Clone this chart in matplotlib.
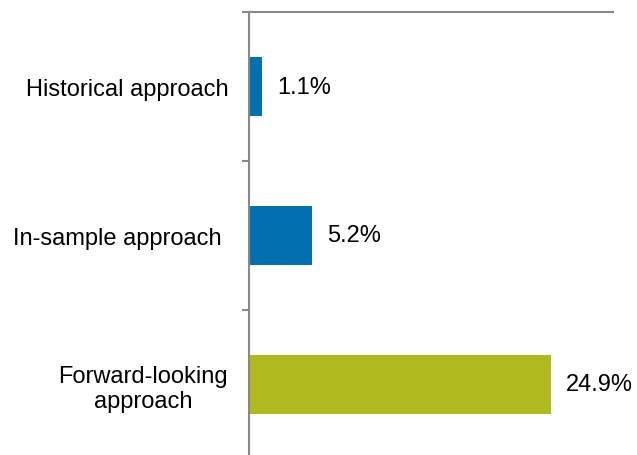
import matplotlib
matplotlib.use("Agg")
import matplotlib.pyplot as plt

categories = ["Historical approach", "In-sample approach ", "Forward-looking\napproach"]
values = [1.1, 5.2, 24.9]
labels = ["1.1%", "5.2%", "24.9%"]
colors = ["#0070B0", "#0070B0", "#B0BA1F"]

plt.rcParams['font.family'] = ['Liberation Sans', 'DejaVu Sans']

W, H = 637, 456
fig = plt.figure(figsize=(W / 100, H / 100), dpi=100)
# axes box in pixels: left 249, right 613, top 13, bottom 460 (just below the image)
ax = fig.add_axes([249 / W, 1 - 460 / H, (613 - 249) / W, (460 - 13) / H])

pos = list(range(len(categories)))
ax.barh(pos, values, height=0.4, color=colors)
for p, v, t in zip(pos, values, labels):
    ax.annotate(t, (v, p), xytext=(10.5, 0), textcoords="offset points",
                ha="left", va="center", fontsize=17, color="#000000")

ax.set_xlim(0, 30)
ax.set_ylim(2.5, -0.5)

ax.set_yticks(pos)
ax.set_yticklabels(categories, fontsize=17, multialignment="center",
                   linespacing=1.15)
ax.tick_params(axis="y", which="major", length=0, pad=15)
ax.set_yticks([-0.5, 0.5, 1.5, 2.5], minor=True)
ax.tick_params(axis="y", which="minor", length=5, width=1.5, color="#888888")
ax.set_xticks([])

for s in ["right", "bottom"]:
    ax.spines[s].set_visible(False)
for s in ["left", "top"]:
    ax.spines[s].set_color("#888888")
    ax.spines[s].set_linewidth(1.5)

fig.savefig("out.png", dpi=100)
